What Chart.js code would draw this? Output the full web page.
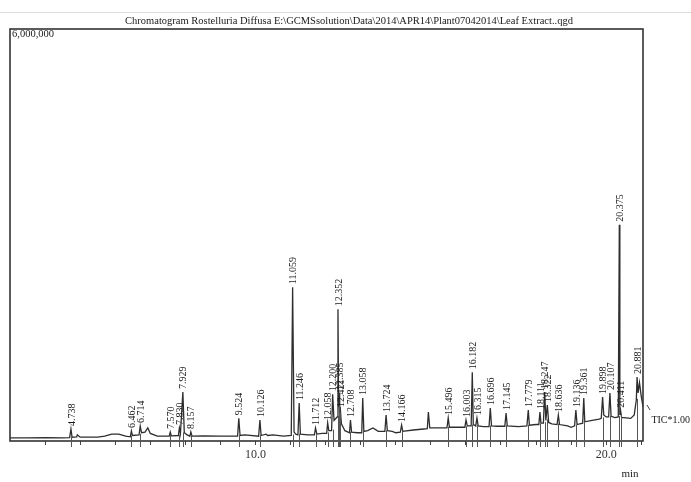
<!DOCTYPE html>
<html>
<head>
<meta charset="utf-8">
<script src="https://cdn.jsdelivr.net/npm/chart.js@4.4.1/dist/chart.umd.min.js"></script>
<style>
  html, body { margin: 0; padding: 0; background: #fff; }
</style>
</head>
<body>
<canvas id="myChart" width="691" height="482"></canvas>
<script>
// Retention time (min) and TIC counts
const rtMin = [
  3.0, 3.5, 4.0, 4.5, 4.70, 4.738, 4.77, 4.9, 4.92, 5.0, 5.5,
  5.7, 5.9, 6.1, 6.3, 6.43, 6.462, 6.49, 6.68, 6.714, 6.75, 6.85, 6.93, 7.0, 7.2,
  7.54, 7.570, 7.60, 7.80, 7.830, 7.86, 7.929, 7.97, 8.05, 8.13, 8.157, 8.19,
  8.5, 9.0, 9.49, 9.524, 9.56, 9.7, 10.09, 10.126, 10.16, 10.3, 10.35, 10.5, 10.8,
  11.02, 11.059, 11.10, 11.15, 11.21, 11.246, 11.28, 11.5, 11.68, 11.712, 11.75, 11.9,
  12.03, 12.058, 12.09, 12.17, 12.200, 12.24, 12.33, 12.352, 12.37, 12.385, 12.40, 12.421, 12.45, 12.55,
  12.68, 12.708, 12.74, 12.9, 13.03, 13.058, 13.09, 13.2, 13.35, 13.5,
  13.69, 13.724, 13.76, 13.9, 14.0, 14.13, 14.166, 14.20, 14.5, 14.8,
  14.90, 14.93, 14.97, 15.2, 15.46, 15.496, 15.53, 15.8,
  15.97, 16.003, 16.04, 16.15, 16.182, 16.21, 16.28, 16.315, 16.35, 16.5,
  16.66, 16.696, 16.73, 16.9, 17.11, 17.145, 17.18, 17.5, 17.74, 17.779, 17.81, 18.0,
  18.08, 18.111, 18.14, 18.21, 18.247, 18.28, 18.322, 18.36, 18.45,
  18.60, 18.636, 18.67, 18.9, 19.0, 19.10, 19.136, 19.17, 19.33, 19.361, 19.39, 19.6, 19.8,
  19.86, 19.898, 19.93, 20.0, 20.07, 20.107, 20.14, 20.25,
  20.345, 20.375, 20.39, 20.411, 20.44, 20.5, 20.7, 20.8,
  20.86, 20.881, 20.91, 20.95, 21.0, 21.05
];
const ticCounts = [
  45000, 45000, 50000, 45000, 50000, 175000, 55000, 60000, 90000, 55000, 55000,
  70000, 100000, 100000, 70000, 60000, 146000, 80000, 90000, 218000, 120000, 130000, 190000, 110000, 70000,
  70000, 131000, 75000, 80000, 190000, 110000, 714000, 120000, 90000, 70000, 131000, 70000,
  75000, 70000, 70000, 330000, 80000, 90000, 70000, 306000, 80000, 100000, 80000, 90000, 70000,
  80000, 2240000, 130000, 100000, 90000, 553000, 100000, 90000, 90000, 190000, 100000, 110000,
  110000, 262000, 150000, 150000, 680000, 300000, 350000, 1920000, 500000, 700000, 400000, 450000, 250000, 150000,
  120000, 306000, 130000, 120000, 120000, 626000, 140000, 150000, 190000, 140000,
  140000, 379000, 150000, 140000, 120000, 130000, 233000, 140000, 160000, 175000,
  180000, 422000, 190000, 190000, 190000, 335000, 200000, 200000,
  200000, 306000, 220000, 220000, 1000000, 240000, 220000, 335000, 220000, 210000,
  210000, 480000, 220000, 215000, 215000, 408000, 220000, 210000, 220000, 451000, 230000, 240000,
  240000, 422000, 260000, 260000, 714000, 300000, 524000, 270000, 250000,
  240000, 379000, 240000, 220000, 200000, 220000, 451000, 240000, 260000, 626000, 280000, 300000, 320000,
  330000, 640000, 380000, 350000, 350000, 700000, 360000, 340000,
  350000, 3150000, 380000, 440000, 340000, 340000, 330000, 380000,
  600000, 932000, 700000, 850000, 650000, 500000
];

// Labelled peaks (retention times printed over the trace)
const peakRT = [
  4.738, 6.462, 6.714, 7.570, 7.830, 7.929, 8.157, 9.524, 10.126, 11.059, 11.246, 11.712,
  12.058, 12.200, 12.352, 12.385, 12.421, 12.708, 13.058, 13.724, 14.166, 15.496,
  16.003, 16.182, 16.315, 16.696, 17.145, 17.779, 18.111, 18.247, 18.322, 18.636,
  19.136, 19.361, 19.898, 20.107, 20.375, 20.411, 20.881
];
const peakText = [
  '4.738', '6.462', '6.714', '7.570', '7.830', '7.929', '8.157', '9.524', '10.126', '11.059', '11.246', '11.712',
  '12.058', '12.200', '12.352', '12.385', '12.421', '12.708', '13.058', '13.724', '14.166', '15.496',
  '16.003', '16.182', '16.315', '16.696', '17.145', '17.779', '18.111', '18.247', '18.322', '18.636',
  '19.136', '19.361', '19.898', '20.107', '20.375', '20.411', '20.881'
];

// Axis
const xTicks = [4, 5, 6, 7, 8, 9, 10, 11, 12, 13, 14, 15, 16, 17, 18, 19, 20, 21];
const xTickLabels = { 10: '10.0', 20: '20.0' };
const yMax = 6000000;

const titleText = 'Chromatogram Rostelluria Diffusa E:\\GCMSsolution\\Data\\2014\\APR14\\Plant07042014\\Leaf Extract..qgd';
const serif = '"Liberation Serif", "DejaVu Serif", serif';

// Extra drawing: frame, title, peak labels, markers
const chromDecor = {
  id: 'chromDecor',
  afterDatasetsDraw(chart) {
    const ctx = chart.ctx;
    const area = chart.chartArea;
    const xs = chart.scales.x, ys = chart.scales.y;
    ctx.save();

    // faint rule along the top of the page
    ctx.strokeStyle = '#dddddd';
    ctx.lineWidth = 1;
    ctx.beginPath();
    ctx.moveTo(0, 12.5);
    ctx.lineTo(691, 12.5);
    ctx.stroke();

    // frame
    ctx.strokeStyle = '#333';
    ctx.lineWidth = 1.6;
    ctx.strokeRect(area.left, area.top, area.right - area.left, area.bottom - area.top);

    // integration marks under each labelled peak
    ctx.strokeStyle = '#555';
    ctx.lineWidth = 1;
    peakRT.forEach((t) => {
      const i = rtMin.indexOf(t);
      const px = Math.round(xs.getPixelForValue(t)) + 0.5;
      const base = ys.getPixelForValue(ticCounts[i - 1]);
      ctx.beginPath();
      ctx.moveTo(px, base - 1);
      ctx.lineTo(px, area.bottom + 6);
      ctx.stroke();
    });

    // peak labels, written vertically
    ctx.fillStyle = '#1a1a1a';
    ctx.font = '10px ' + serif;
    ctx.textAlign = 'left';
    ctx.textBaseline = 'middle';
    peakRT.forEach((t, k) => {
      const i = rtMin.indexOf(t);
      const px = xs.getPixelForValue(t) + 1;
      const py = ys.getPixelForValue(ticCounts[i]) - 3;
      ctx.save();
      ctx.translate(px, py);
      ctx.rotate(-Math.PI / 2);
      ctx.fillText(peakText[k], 0, 0);
      ctx.restore();
    });

    // title and other text
    ctx.fillStyle = '#1a1a1a';
    ctx.font = '10.5px ' + serif;
    ctx.textAlign = 'center';
    ctx.textBaseline = 'middle';
    ctx.fillText(titleText, 349, 21);

    ctx.textAlign = 'left';
    ctx.font = '10.5px ' + serif;
    ctx.fillText('6,000,000', area.left + 2, area.top + 5);

    ctx.font = '10px ' + serif;
    ctx.textAlign = 'right';
    ctx.fillText('TIC*1.00', 690, 420);

    ctx.textAlign = 'center';
    ctx.font = '11px ' + serif;
    ctx.fillText('min', 630, 474);

    // small stroke of the trace tail next to the TIC note
    ctx.strokeStyle = '#444';
    ctx.lineWidth = 1;
    ctx.beginPath();
    ctx.moveTo(647, 405);
    ctx.lineTo(650, 410);
    ctx.stroke();

    ctx.restore();
  }
};

const ctx = document.getElementById('myChart').getContext('2d');
const chart = new Chart(ctx, {
  type: 'line',
  data: {
    datasets: [{
      label: 'TIC',
      data: rtMin.map((t, i) => ({ x: t, y: ticCounts[i] })),
      borderColor: '#2e2e2e',
      borderWidth: 1.3,
      pointRadius: 0,
      tension: 0,
      fill: false
    }]
  },
  options: {
    responsive: false,
    animation: false,
    layout: { padding: { left: 10, right: 48, top: 29, bottom: 0 } },
    plugins: {
      legend: { display: false },
      tooltip: { enabled: false }
    },
    scales: {
      x: {
        type: 'linear',
        min: 3.0,
        max: 21.05,
        afterBuildTicks: (s) => { s.ticks = xTicks.map(v => ({ value: v })); },
        afterFit: (s) => { s.height = 41; },
        ticks: {
          autoSkip: false,
          maxRotation: 0,
          padding: 3,
          color: '#333',
          font: { family: serif, size: 12 },
          callback: (v) => xTickLabels[v] || ''
        },
        grid: { drawOnChartArea: false, drawTicks: true, tickLength: 4, color: '#444' },
        border: { display: false }
      },
      y: {
        display: false,
        min: 0,
        max: yMax
      }
    }
  },
  plugins: [chromDecor]
});
</script>
</body>
</html>
